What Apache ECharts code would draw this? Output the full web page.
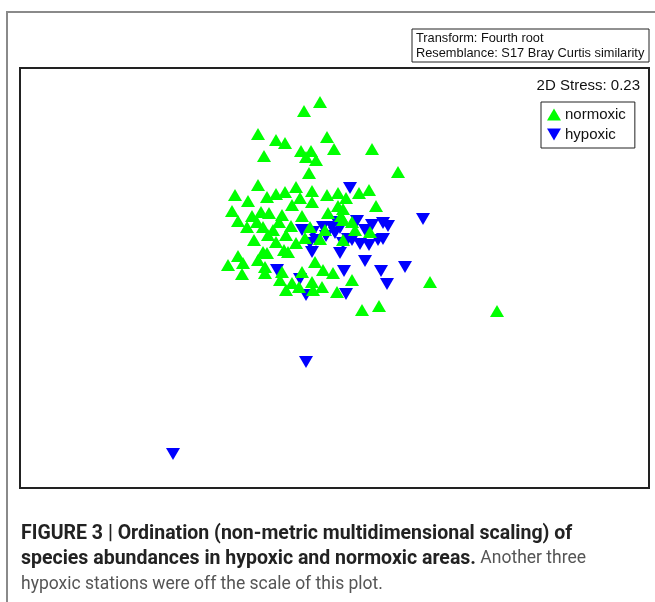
<!DOCTYPE html>
<html>
<head>
<meta charset="utf-8">
<script src="https://cdn.jsdelivr.net/npm/echarts@6/dist/echarts.min.js"></script>
<style>
html,body{margin:0;padding:0;background:#fff;}
#chart{width:655px;height:602px;}
</style>
</head>
<body>
<div id="chart"></div>
<script>
// NMDS ordination scores (plot units, y grows downward)
const seriesNames = ['normoxic', 'hypoxic'];
const normoxic = [
  [320,102],[304,111],[258,134],[276,140],[285,143],[327,137],[264,156],[301,151],[311,151],[306,157],
  [334,149],[316,160],[372,149],[309,173],[398,172],[258,185],[296,187],[312,191],[369,190],[359,193],
  [338,193],[327,195],[285,192],[276,194],[267,197],[235,195],[312,202],[292,205],[338,206],[343,209],
  [376,206],[232,211],[252,216],[261,212],[269,213],[282,215],[302,216],[328,213],[341,216],[238,221],
  [247,227],[263,227],[273,230],[291,226],[310,227],[325,230],[343,220],[352,222],[355,230],[370,232],
  [254,240],[268,235],[284,250],[305,238],[320,239],[343,240],[238,256],[263,252],[228,265],[243,263],
  [242,274],[258,260],[265,267],[265,273],[267,253],[282,272],[280,280],[286,290],[292,283],[302,272],
  [299,287],[315,262],[312,282],[313,290],[323,270],[322,287],[333,273],[337,292],[352,280],[362,310],
  [379,306],[430,282],[497,311],[288,252],[248,201],[257,222],[279,222],[286,235],[296,243],[276,242],
  [300,198],[346,198]
];
const hypoxic = [
  [350,188],[423,219],[383,223],[388,226],[372,225],[357,221],[337,222],[340,228],[365,230],[335,233],
  [348,239],[343,243],[360,244],[369,245],[378,240],[383,239],[340,253],[365,261],[405,267],[344,271],
  [381,271],[387,284],[346,294],[302,230],[313,232],[323,227],[332,227],[310,243],[277,270],[300,279],
  [306,295],[312,252],[306,362],[173,454],[352,240],[326,236],[316,240]
];
const xRange = [20, 649];
const yRange = [68, 488];
const stressLabel = '2D Stress: 0.23';
const infoLines = ['Transform: Fourth root', 'Resemblance: S17 Bray Curtis similarity'];
const captionBold1 = 'FIGURE 3 | Ordination (non-metric multidimensional scaling) of';
const captionBold2 = 'species abundances in hypoxic and normoxic areas.';
const captionNormal2 = ' Another three';
const captionNormal3 = 'hypoxic stations were off the scale of this plot.';

const downTri = 'path://M0,0L10,0L5,8.6Z';
const chart = echarts.init(document.getElementById('chart'), null, {renderer: 'canvas'});
const capFont = 'Roboto, "Liberation Sans", Arial, sans-serif';
const arial = '"Liberation Sans", Arial, sans-serif';
chart.setOption({
  animation: false,
  backgroundColor: '#fff',
  grid: {left: 20, top: 68, width: 629, height: 420, show: true, borderColor: '#222', borderWidth: 2, backgroundColor: 'transparent'},
  xAxis: {type: 'value', min: xRange[0], max: xRange[1], show: false},
  yAxis: {type: 'value', min: yRange[0], max: yRange[1], inverse: true, show: false},
  legend: {
    data: [{name: seriesNames[0], icon: 'triangle'}, {name: seriesNames[1], icon: downTri}],
    orient: 'vertical', left: 541, top: 102,
    itemWidth: 14, itemHeight: 12, itemGap: 5,
    padding: [5, 9, 6, 6],
    borderColor: '#222', borderWidth: 1,
    textStyle: {fontFamily: arial, fontSize: 15, color: '#111', padding: [0,0,0,-1]},
    selectedMode: false
  },
  series: [
    {name: seriesNames[1], type: 'scatter', data: hypoxic, symbol: downTri, symbolSize: [14, 12],
     itemStyle: {color: '#0000ff', opacity: 1}, silent: true},
    {name: seriesNames[0], type: 'scatter', data: normoxic, symbol: 'triangle', symbolSize: [14, 12],
     itemStyle: {color: '#00ff00', opacity: 1}, silent: true}
  ],
  graphic: [
    {type: 'polyline', shape: {points: [[7, 602], [7, 12], [655, 12]]}, style: {stroke: '#8a8a8a', lineWidth: 2, fill: null}, silent: true},
    {type: 'rect', shape: {x: 412, y: 29, width: 237, height: 33}, style: {stroke: '#222', lineWidth: 1, fill: '#fff'}, silent: true},
    {type: 'text', x: 416, y: 38, style: {text: infoLines[0], font: '12.8px ' + arial, fill: '#111', verticalAlign: 'middle'}, silent: true},
    {type: 'text', x: 416, y: 53, style: {text: infoLines[1], font: '12.8px ' + arial, fill: '#111', verticalAlign: 'middle'}, silent: true},
    {type: 'text', x: 640, y: 86, style: {text: stressLabel, font: '15px ' + arial, fill: '#111', align: 'right', verticalAlign: 'middle'}, silent: true},
    {type: 'text', x: 21, y: 534, style: {text: captionBold1, font: 'bold 19.5px ' + capFont, fill: '#222', verticalAlign: 'middle'}, silent: true},
    {type: 'text', x: 21, y: 559, style: {text: '{b|' + captionBold2 + '}{n|' + captionNormal2 + '}', verticalAlign: 'middle',
      rich: {b: {font: 'bold 19.5px ' + capFont, fill: '#222'}, n: {font: '17.5px ' + capFont, fill: '#555'}}}, silent: true},
    {type: 'text', x: 21, y: 585, style: {text: captionNormal3, font: '17.5px ' + capFont, fill: '#555', verticalAlign: 'middle'}, silent: true}
  ]
});
</script>
</body>
</html>
